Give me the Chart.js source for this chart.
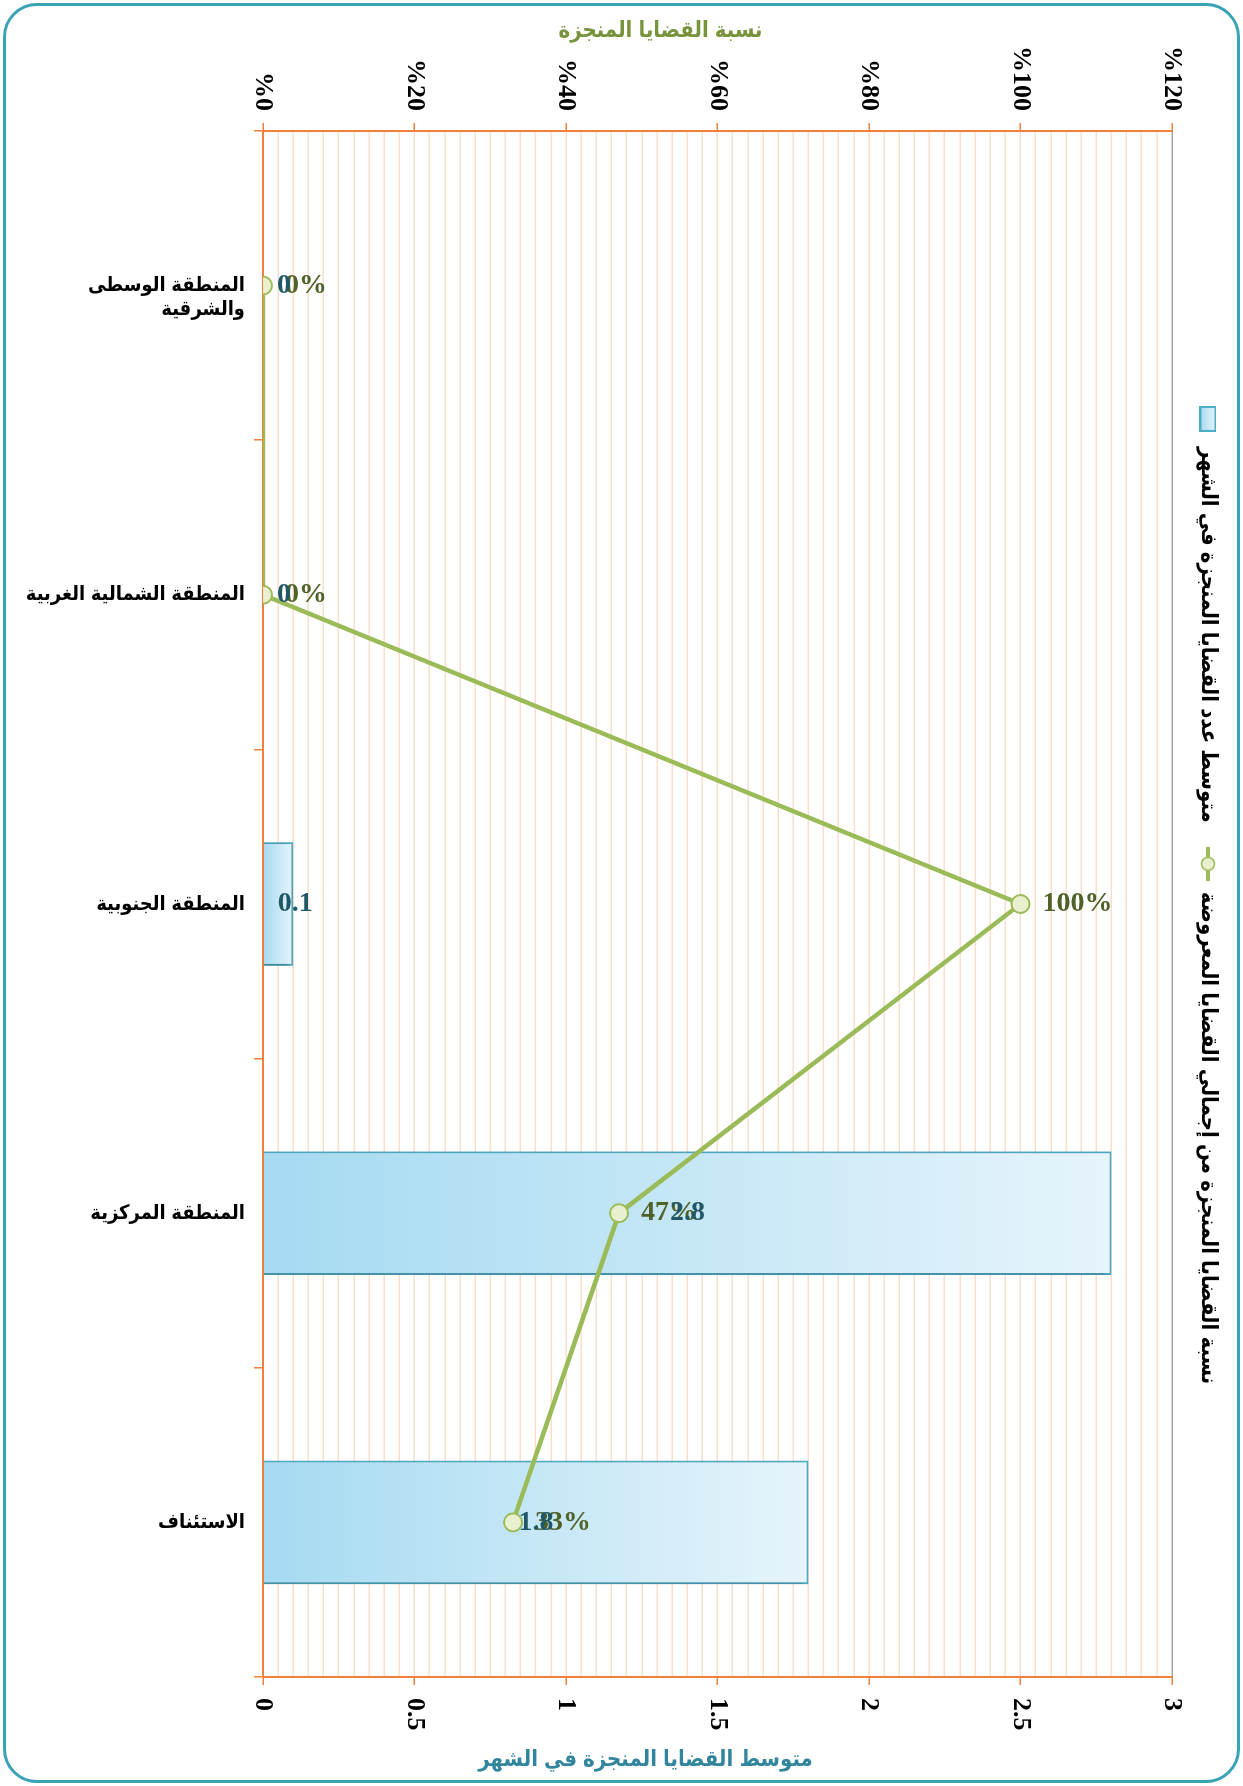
<!DOCTYPE html>
<html lang="ar">
<head>
<meta charset="utf-8">
<title>القضايا المنجزة</title>
<script src="https://cdn.jsdelivr.net/npm/chart.js@4.4.1/dist/chart.umd.min.js"></script>
<style>
  html, body { margin: 0; padding: 0; background: #fff; }
  body { width: 1243px; height: 1786px; position: relative; overflow: hidden; }
  #frame {
    position: absolute; left: 3px; top: 3px; width: 1231px; height: 1774px;
    border: 3px solid #3AA3B5; border-radius: 34px;
  }
  /* the chart is drawn lying on its side, then turned a quarter clockwise */
  #turn {
    position: absolute; left: 0; top: 0; width: 1786px; height: 1243px;
    transform-origin: 0 0; transform: translateX(1243px) rotate(90deg);
  }
</style>
</head>
<body>
<div id="frame"></div>
<div id="turn"><canvas id="doneChart" width="1786" height="1243"></canvas></div>
<script>
"use strict";

// data
var categories = [['المنطقة الوسطى', 'والشرقية'], 'المنطقة الشمالية الغربية', 'المنطقة الجنوبية', 'المنطقة المركزية', 'الاستئناف'];
var avgDone = [0, 0, 0.1, 2.8, 1.8];
var pctDone = [0, 0, 100, 47, 33];
var barLabel = 'متوسط عدد القضايا المنجزة في الشهر';
var lineLabel = 'نسبة القضايا المنجزة من إجمالي القضايا المعروضة';
var pctAxisTitle = 'نسبة القضايا المنجزة';
var avgAxisTitle = 'متوسط القضايا المنجزة في الشهر';

var ORANGE = '#F0803C';
var PEACH = '#FCDFCB';
var SANS = '"Liberation Sans", "DejaVu Sans Condensed", "DejaVu Sans", sans-serif';
var SERIF = '"Liberation Serif", "DejaVu Serif", serif';

function isMajor(v) {
  return Math.abs(v * 2 - Math.round(v * 2)) < 1e-6;
}

// text that has to read upright once the canvas is turned
function drawUpright(ctx, x, y, txt, off, color, align) {
  ctx.save();
  ctx.translate(x, y);
  ctx.rotate(-Math.PI / 2);
  ctx.fillStyle = color;
  ctx.textAlign = align || 'left';
  ctx.fillText(txt, off, 0);
  ctx.restore();
}

// legend swatches
var barSwatch = document.createElement('canvas');
barSwatch.width = 26; barSwatch.height = 17;
(function () {
  var g = barSwatch.getContext('2d');
  var grad = g.createLinearGradient(0, 17, 0, 0);
  grad.addColorStop(0, '#A5DAF1');
  grad.addColorStop(1, '#E6F4FB');
  g.fillStyle = grad;
  g.fillRect(1, 1, 24, 15);
  g.strokeStyle = '#4BACC6';
  g.lineWidth = 2;
  g.strokeRect(1, 1, 24, 15);
})();

var lineSwatch = document.createElement('canvas');
lineSwatch.width = 34; lineSwatch.height = 18;
(function () {
  var g = lineSwatch.getContext('2d');
  g.strokeStyle = '#9BBB59';
  g.lineWidth = 4;
  g.beginPath(); g.moveTo(0, 9); g.lineTo(34, 9); g.stroke();
  g.beginPath(); g.arc(17, 9, 6.5, 0, Math.PI * 2);
  g.fillStyle = '#E8F0D0'; g.fill();
  g.lineWidth = 1.5; g.stroke();
})();

var valueLabels = {
  id: 'valueLabels',
  beforeLayout: function (chart) {
    // leave a gap between the legend and the plot
    var lg = chart.legend;
    if (lg && !lg._gapAdded) {
      var fit = lg.fit;
      lg.fit = function () {
        fit.apply(this, arguments);
        this.height += 15;
      };
      lg._gapAdded = true;
    }
  },
  beforeDatasetDraw: function (chart, args) {
    if (args.index !== 0) return;
    // soft shadow under the bars
    var ctx = chart.ctx;
    ctx.save();
    ctx.shadowColor = 'rgba(0,0,0,0.3)';
    ctx.shadowBlur = 5;
    ctx.shadowOffsetX = 2;
    ctx.shadowOffsetY = 2;
  },
  afterDatasetDraw: function (chart, args) {
    if (args.index !== 0) return;
    chart.ctx.restore();
  },
  afterDatasetsDraw: function (chart) {
    var ctx = chart.ctx;
    ctx.save();
    ctx.font = 'bold 28px ' + SERIF;
    ctx.textBaseline = 'middle';
    chart.getDatasetMeta(1).data.forEach(function (pt, i) {
      drawUpright(ctx, pt.x, pt.y, pctDone[i] + '%', 22, '#4F6228');
    });
    chart.getDatasetMeta(0).data.forEach(function (bar, i) {
      var txt = String(avgDone[i]);
      var w = ctx.measureText(txt).width;
      var len = bar.base - bar.y;
      drawUpright(ctx, bar.x, bar.base, txt, Math.max(len / 2 - w / 2, 14), '#215868');
    });
    ctx.restore();
  },
  afterDraw: function (chart) {
    var ctx = chart.ctx;
    var a = chart.chartArea;
    var mid = (a.top + a.bottom) / 2;
    ctx.save();
    ctx.font = 'bold 22px ' + SANS;
    ctx.textBaseline = 'middle';
    drawUpright(ctx, a.left - 100, mid + 57, pctAxisTitle, 0, '#77933C', 'center');
    drawUpright(ctx, a.right + 83, mid + 72, avgAxisTitle, 0, '#31859C', 'center');
    ctx.restore();
  }
};

var doneCtx = document.getElementById('doneChart').getContext('2d');
var doneChart = new Chart(doneCtx, {
  type: 'bar',
  data: {
    labels: categories,
    datasets: [{
      type: 'bar',
      label: barLabel,
      data: avgDone,
      yAxisID: 'y',
      order: 2,
      categoryPercentage: 0.8,
      barPercentage: 0.5,
      borderColor: '#4BACC6',
      borderWidth: 2,
      backgroundColor: function (c) {
        var chart = c.chart;
        if (!chart.chartArea || c.type !== 'data') return '#BEE5F5';
        var y = chart.scales.y;
        var base = y.getPixelForValue(0);
        var end = y.getPixelForValue(Math.max(c.raw, 0.01));
        var grad = chart.ctx.createLinearGradient(0, base, 0, end);
        grad.addColorStop(0, '#A5DAF1');
        grad.addColorStop(1, '#E6F4FB');
        return grad;
      }
    }, {
      type: 'line',
      label: lineLabel,
      data: pctDone,
      yAxisID: 'y2',
      order: 1,
      borderColor: '#9BBB59',
      borderWidth: 4.5,
      tension: 0,
      pointRadius: 9,
      pointBackgroundColor: '#E8F0D0',
      pointBorderColor: '#9BBB59',
      pointBorderWidth: 2
    }]
  },
  options: {
    responsive: false,
    animation: false,
    devicePixelRatio: 1,
    events: [],
    layout: { padding: { top: 0, left: 0, right: 0, bottom: 0 } },
    plugins: {
      tooltip: { enabled: false },
      legend: {
        position: 'top',
        labels: {
          usePointStyle: true,
          pointStyleWidth: 34,
          padding: 24,
          color: '#000',
          font: { family: SANS, size: 22, weight: 'bold' },
          generateLabels: function (chart) {
            var items = Chart.defaults.plugins.legend.labels.generateLabels(chart);
            items.forEach(function (it) {
              it.pointStyle = it.datasetIndex === 0 ? barSwatch : lineSwatch;
            });
            return items.sort(function (p, q) { return p.datasetIndex - q.datasetIndex; });
          }
        }
      }
    },
    scales: {
      x: {
        position: 'bottom',
        offset: true,
        grid: { offset: true, drawOnChartArea: false, color: ORANGE, tickColor: ORANGE, tickLength: 9, lineWidth: 1.5 },
        border: { color: ORANGE, width: 2 },
        ticks: {
          maxRotation: 90, minRotation: 90, autoSkip: false, padding: 9, color: '#000',
          font: { family: SANS, size: 20, weight: 'bold' }
        },
        afterFit: function (s) { s.height = 263; }
      },
      y: {
        position: 'right',
        min: 0,
        max: 3,
        ticks: {
          stepSize: 0.05, autoSkip: false, padding: 13, color: '#000',
          font: { family: SERIF, size: 26, weight: 'bold' },
          callback: function (v) { return isMajor(v) ? String(+v.toFixed(2)) : ''; }
        },
        grid: {
          lineWidth: 1.5,
          tickLength: 8,
          color: function (c) { return c.tick && Math.abs(c.tick.value - 3) < 1e-6 ? '#A6A6A6' : PEACH; },
          tickColor: function (c) { return c.tick && isMajor(c.tick.value) ? ORANGE : 'rgba(0,0,0,0)'; }
        },
        border: { color: ORANGE, width: 2 },
        afterFit: function (s) { s.width = 109; }
      },
      y2: {
        position: 'left',
        min: 0,
        max: 120,
        ticks: {
          stepSize: 20, padding: 12, color: '#000',
          font: { family: SERIF, size: 26, weight: 'bold' },
          callback: function (v) { return '%' + v; }
        },
        grid: { drawOnChartArea: false, color: ORANGE, tickColor: ORANGE, tickLength: 8, lineWidth: 1.5 },
        border: { color: ORANGE, width: 2 },
        afterFit: function (s) { s.width = 131; }
      }
    }
  },
  plugins: [valueLabels]
});
</script>
</body>
</html>
